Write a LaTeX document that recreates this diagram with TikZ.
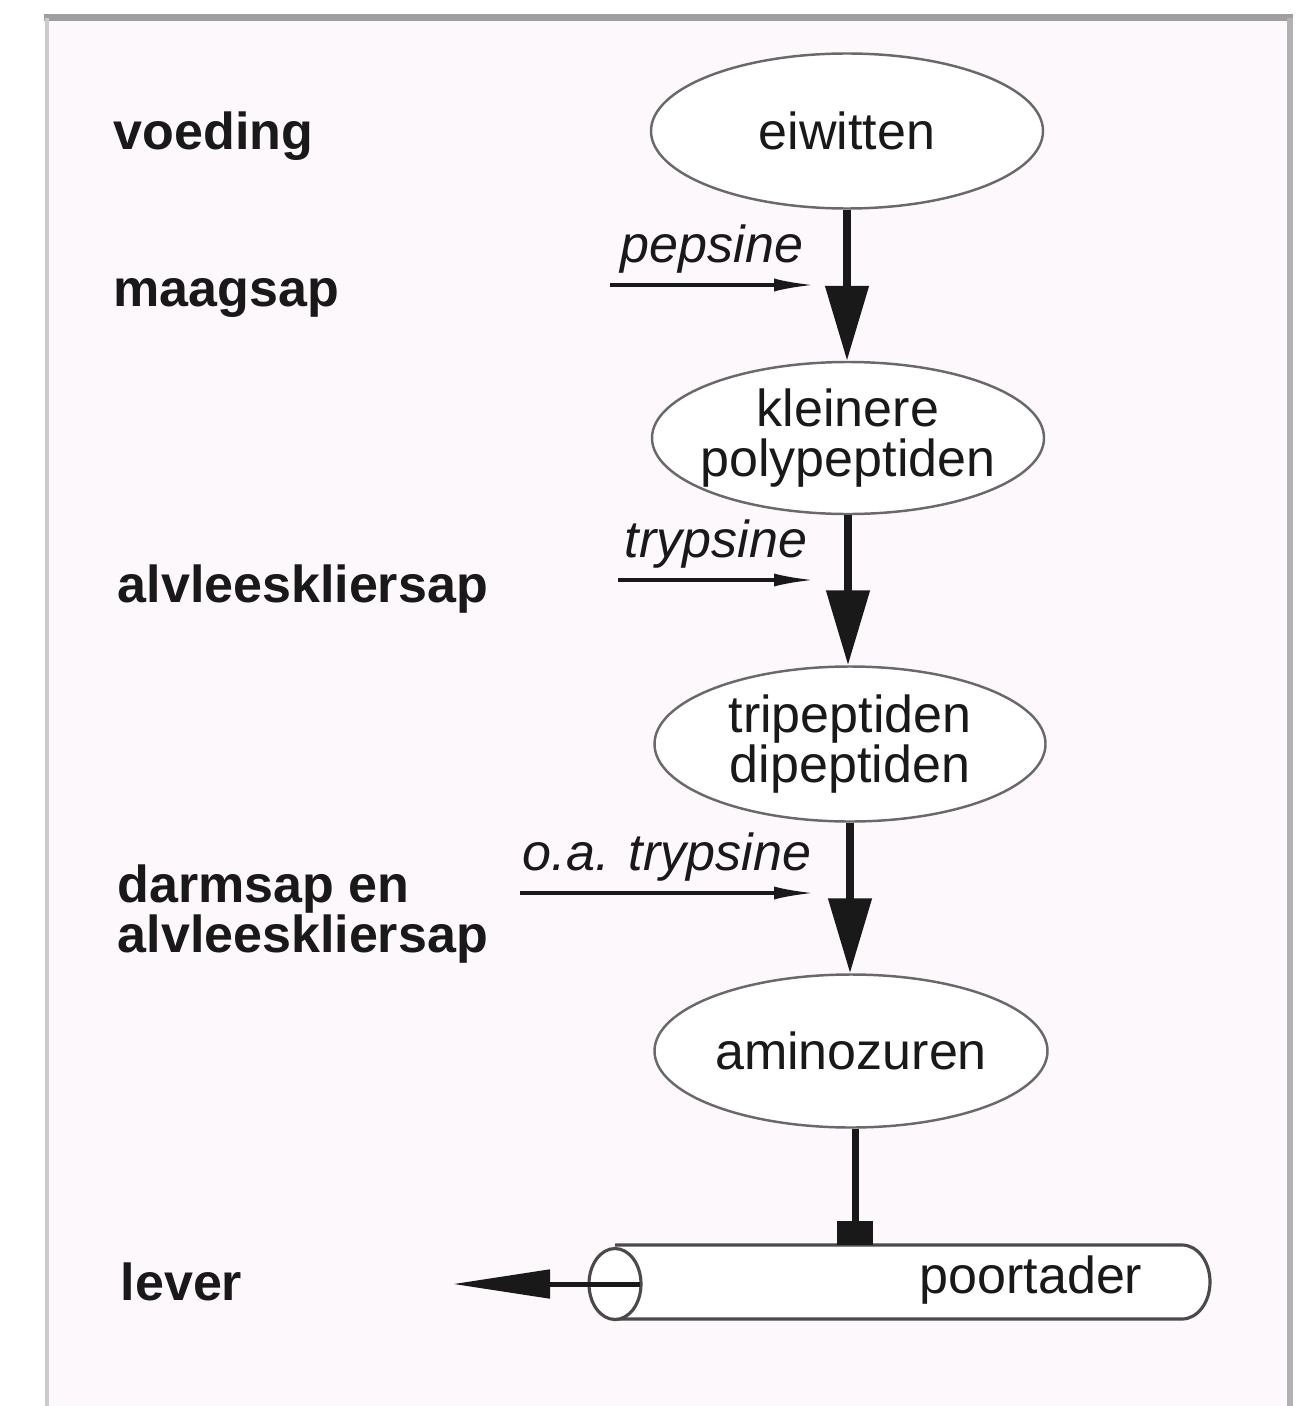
\documentclass[tikz,border=0pt]{standalone}
\usepackage{fontspec}
\setmainfont{Liberation Sans}
\usetikzlibrary{shapes.geometric,arrows.meta}
\definecolor{bgpink}{RGB}{253,248,252}
\definecolor{inkc}{RGB}{25,25,25}
\definecolor{outlinec}{RGB}{105,105,105}
\tikzset{
  txt/.style={font=\fontsize{14.8pt}{14.4pt}\selectfont, text=inkc},
  blob/.style={ellipse, draw=outlinec, line width=0.7pt, fill=white, inner sep=0pt,
    align=center, txt},
  sidelab/.style={txt, font=\fontsize{14.8pt}{14.4pt}\selectfont\bfseries, inner sep=0pt},
  enzlab/.style={txt, font=\fontsize{14.8pt}{14.4pt}\selectfont\itshape, inner sep=0pt,
    anchor=base, yshift=0.23cm},
  flow/.style={draw=inkc, line width=0.08cm, -{Triangle[length=0.75cm,width=0.42cm]}},
  flowblock/.style={draw=inkc, line width=0.07cm, -{Rectangle[length=0.24cm,width=0.36cm]}},
  enz/.style={draw=inkc, line width=0.035cm, -{Latex[length=0.4cm,width=0.13cm]}},
  leverarrow/.style={draw=inkc, line width=0.05cm, -{Triangle[length=0.97cm,width=0.28cm]}},
  tube/.style={draw=outlinec!70!black, line width=0.9pt},
}
\begin{document}
\begin{tikzpicture}
\useasboundingbox (0,0) rectangle (13.09,-14.06);
\fill[white] (0,0) rectangle (13.09,-14.06);
\fill[bgpink] (0.47,-0.18) rectangle (12.90,-14.06);
% frame
\draw[gray!75, line width=0.07cm] (0.44,-0.18) -- (12.93,-0.18);
\draw[gray!110!black!45, line width=0.045cm] (0.47,-0.18) -- (0.47,-14.10);
\draw[gray!60, line width=0.06cm] (12.90,-0.18) -- (12.90,-14.10);

% ellipses
\node[blob, minimum width=3.92cm, minimum height=1.55cm] (eiw) at (8.47,-1.31) {eiwitten};
\node[blob, minimum width=3.92cm, minimum height=1.52cm, inner xsep=-0.12cm] (klein) at (8.48,-4.38) {kleinere\\polypeptiden};
\node[blob, minimum width=3.91cm, minimum height=1.55cm] (trip) at (8.50,-7.44) {tripeptiden\\dipeptiden};
\node[blob, minimum width=3.93cm, minimum height=1.53cm] (amino) at (8.51,-10.51) {aminozuren};

% main flow arrows
\draw[flow] (eiw.south) -- (eiw.south |- klein.north);
\draw[flow] (klein.south) -- (klein.south |- trip.north);
\draw[flow] (trip.south) -- (trip.south |- amino.north);

% enzyme arrows
\coordinate (pS) at (6.10,-2.85);
\coordinate (pE) at (8.14,-2.85);
\coordinate (tS) at (6.18,-5.80);
\coordinate (tE) at (8.14,-5.80);
\coordinate (oS) at (5.20,-8.93);
\coordinate (oE) at (8.14,-8.93);
\draw[enz] (pS) -- node[enzlab] (pep) {pepsine} (pE);
\draw[enz] (tS) -- node[enzlab] (tryp) {trypsine} (tE);
\draw[enz] (oS) -- node[enzlab] (oatryp) {o.a. trypsine} (oE);

% left labels
\node[sidelab, anchor=base west] (voeding) at (1.13,-1.50) {voeding};
\node[sidelab, anchor=base west] (maagsap) at (1.13,-3.06) {maagsap};
\node[sidelab, anchor=base west] (alvlee) at (1.17,-6.02) {alvleeskliersap};
\node[sidelab, anchor=west, align=left] (darmsap) at (1.17,-9.14) {darmsap en\\alvleeskliersap};
\node[sidelab, anchor=base west] (lever) at (1.20,-13.00) {lever};

% poortader (vein as cylinder)
\draw[tube, fill=white] (6.15,-12.45) -- (11.82,-12.45)
  arc[start angle=90, end angle=-90, x radius=0.28, y radius=0.37] -- (6.15,-13.19);
\draw[tube, fill=white] (6.15,-12.84) ellipse[x radius=0.26, y radius=0.355];
\node[txt, inner sep=0pt] (poort) at (10.31,-12.80) {poortader};
\coordinate (vtop) at (8.55,-12.45);
\coordinate (cylL) at (6.40,-12.84);
\coordinate (levertip) at (4.53,-12.84);
\draw[flowblock] (amino.south -| vtop) -- (vtop);
\draw[leverarrow] (cylL) -- (levertip);
\end{tikzpicture}
\end{document}
